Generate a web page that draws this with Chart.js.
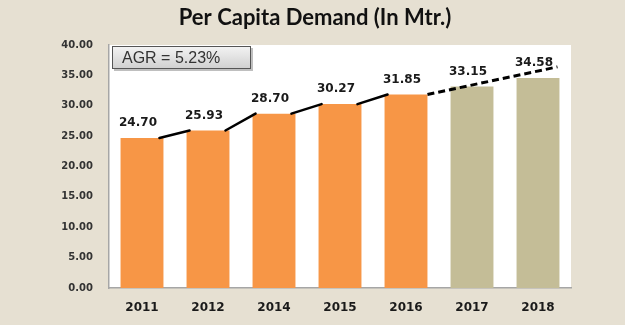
<!DOCTYPE html>
<html>
<head>
<meta charset="utf-8">
<script src="https://cdn.jsdelivr.net/npm/chart.js@4"></script>
<style>
  html, body { margin: 0; padding: 0; background: #e6e0d2; }
  #wrap { width: 625px; height: 325px; position: relative; }
</style>
</head>
<body>
<div id="wrap"><canvas id="demand"></canvas></div>
<script>
// values
const years = ["2011", "2012", "2014", "2015", "2016", "2017", "2018"];
const demand = [24.70, 25.93, 28.70, 30.27, 31.85, 33.15, 34.58];
const projected = [false, false, false, false, false, true, true];
const yTicks = [0, 5, 10, 15, 20, 25, 30, 35, 40];
const trendEnd = 36.4;        // where the dashed trend line ends, above 2018
const agrText = "AGR = 5.23%";
const titleText = "Per Capita Demand (In Mtr.)";

const ORANGE = "#f79646", KHAKI = "#c4bd97";

const decor = {
  id: "decor",
  beforeDraw(chart) {
    const { ctx, chartArea: a } = chart;
    ctx.save();
    ctx.fillStyle = "#e6e0d2";
    ctx.fillRect(0, 0, chart.width, chart.height);
    ctx.fillStyle = "#ffffff";
    ctx.fillRect(a.left, a.top, a.right - a.left, a.bottom - a.top);
    // title
    ctx.fillStyle = "#111";
    ctx.font = "bold 22px Lato";
    ctx.textAlign = "center";
    ctx.textBaseline = "middle";
    ctx.fillText(titleText, 315, 18);
    ctx.restore();
  },
  afterDatasetsDraw(chart) {
    const { ctx } = chart;
    const bars = chart.getDatasetMeta(0).data;
    const y = chart.scales.y;
    ctx.save();
    ctx.strokeStyle = "#000";
    ctx.lineCap = "round";
    ctx.lineWidth = 2.5;
    // solid links between actual bars
    for (let i = 0; i < bars.length - 1; i++) {
      if (projected[i + 1]) break;
      const a = bars[i], b = bars[i + 1];
      ctx.beginPath();
      ctx.moveTo(a.x + a.width / 2 - 4, a.y);
      ctx.lineTo(b.x - b.width / 2 + 3, b.y);
      ctx.stroke();
    }
    // dashed projection from last actual bar
    const last = projected.indexOf(true) - 1;
    const s = bars[last], e = bars[bars.length - 1];
    ctx.lineCap = "butt";
    ctx.lineWidth = 3;
    ctx.setLineDash([7, 4]);
    ctx.beginPath();
    ctx.moveTo(s.x + s.width / 2, s.y);
    ctx.lineTo(e.x + e.width / 2 - 2, y.getPixelForValue(trendEnd));
    ctx.stroke();
    ctx.setLineDash([]);

    // value labels
    ctx.fillStyle = "#1a1a1a";
    ctx.font = "bold 12px 'DejaVu Sans'";
    ctx.textAlign = "center";
    ctx.textBaseline = "middle";
    bars.forEach((b, i) => ctx.fillText(demand[i].toFixed(2), b.x - 4, b.y - 15));

    // AGR box
    const a = chart.chartArea;
    const bx = a.left + 3, by = a.top + 1, bw = 139, bh = 23;
    ctx.fillStyle = "rgba(0,0,0,0.25)";
    ctx.fillRect(bx + 2, by + 2, bw, bh);
    const g = ctx.createLinearGradient(0, by, 0, by + bh);
    g.addColorStop(0, "#f4f4f4");
    g.addColorStop(1, "#cfcfcf");
    ctx.fillStyle = g;
    ctx.fillRect(bx, by, bw, bh);
    ctx.strokeStyle = "#555";
    ctx.lineWidth = 1;
    ctx.strokeRect(bx + 0.5, by + 0.5, bw - 1, bh - 1);
    ctx.fillStyle = "#333";
    ctx.font = "16px 'Liberation Sans'";
    ctx.textAlign = "left";
    ctx.fillText(agrText, bx + 10, by + bh / 2 + 1);
    ctx.restore();
  }
};

new Chart(document.getElementById("demand").getContext("2d"), {
  type: "bar",
  data: {
    labels: years,
    datasets: [{
      data: demand,
      backgroundColor: projected.map(p => p ? KHAKI : ORANGE),
      barPercentage: 0.65,
      categoryPercentage: 1,
      borderWidth: 0
    }]
  },
  options: {
    responsive: true,
    maintainAspectRatio: false,
    animation: false,
    layout: { padding: { top: 45, right: 54, bottom: 0, left: 0 } },
    plugins: { legend: { display: false }, tooltip: { enabled: false } },
    scales: {
      x: {
        afterFit: s => { s.height = 37; },
        grid: { display: false, drawTicks: false },
        border: { display: true, color: "#a6a6a6", width: 1.5 },
        ticks: { color: "#1a1a1a", padding: 13, font: { family: "DejaVu Sans", size: 12, weight: "bold" } }
      },
      y: {
        min: 0, max: 40,
        afterBuildTicks: s => { s.ticks = yTicks.map(v => ({ value: v })); },
        afterFit: s => { s.width = 109; },
        grid: { display: false, drawTicks: false },
        border: { display: true, color: "#a6a6a6", width: 1.5 },
        ticks: { color: "#333", padding: 16, font: { family: "DejaVu Sans", size: 10, weight: "bold" },
                 callback: v => Number(v).toFixed(2) }
      }
    }
  },
  plugins: [decor]
});
</script>
</body>
</html>
